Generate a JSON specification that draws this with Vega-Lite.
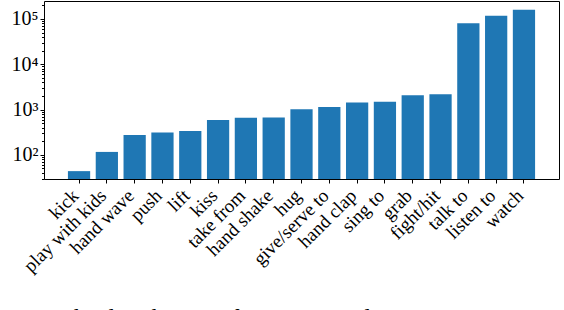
{
  "$schema": "https://vega.github.io/schema/vega-lite/v6.json",
  "width": 515,
  "height": 178,
  "autosize": {"type": "none"},
  "padding": {"left": 44, "top": 1, "right": 5, "bottom": 131},
  "background": "white",
  "config": {
    "view": {"stroke": "black", "strokeWidth": 1}
  },
  "title": {
    "text": "Figure 2. The distribution of interaction classes in AVA. I",
    "orient": "bottom",
    "anchor": "start",
    "baseline": "top",
    "font": "Liberation Serif",
    "fontSize": 24,
    "fontWeight": "normal",
    "color": "black",
    "offset": 30,
    "dx": -44
  },
  "data": {
    "values": [
      {"cls": "kick", "n": 43.7},
      {"cls": "play with kids", "n": 116},
      {"cls": "hand wave", "n": 275},
      {"cls": "push", "n": 313},
      {"cls": "lift", "n": 336},
      {"cls": "kiss", "n": 586},
      {"cls": "take from", "n": 658},
      {"cls": "hand shake", "n": 668},
      {"cls": "hug", "n": 1020},
      {"cls": "give/serve to", "n": 1140},
      {"cls": "hand clap", "n": 1425},
      {"cls": "sing to", "n": 1477},
      {"cls": "grab", "n": 2070},
      {"cls": "fight/hit", "n": 2178},
      {"cls": "talk to", "n": 79600},
      {"cls": "listen to", "n": 117500},
      {"cls": "watch", "n": 159000}
    ]
  },
  "mark": {"type": "bar", "color": "#1f77b4"},
  "encoding": {
    "x": {
      "field": "cls",
      "type": "nominal",
      "sort": null,
      "title": null,
      "scale": {"paddingInner": 0.2, "paddingOuter": 0.86},
      "axis": {
        "domain": false,
        "tickColor": "black",
        "tickSize": 4,
        "tickWidth": 1,
        "labelAngle": -45,
        "labelAlign": "right",
        "labelBaseline": "top",
        "labelFont": "Liberation Serif",
        "labelFontSize": 19,
        "labelColor": "black",
        "labelPadding": 3,
        "labelOffset": -10,
        "labelOverlap": false
      }
    },
    "y": {
      "field": "n",
      "type": "quantitative",
      "title": null,
      "scale": {"type": "log", "domain": [29.3, 248000], "nice": false, "zero": false},
      "axis": {
        "domain": false,
        "grid": false,
        "values": [30, 40, 50, 60, 70, 80, 90, 100, 200, 300, 400, 500, 600, 700, 800, 900, 1000, 2000, 3000, 4000, 5000, 6000, 7000, 8000, 9000, 10000, 20000, 30000, 40000, 50000, 60000, 70000, 80000, 90000, 100000, 200000],
        "labelExpr": "datum.value == 100 ? '10²' : datum.value == 1000 ? '10³' : datum.value == 10000 ? '10⁴' : datum.value == 100000 ? '10⁵' : ''",
        "tickColor": "black",
        "tickWidth": 1,
        "tickSize": {"condition": {"test": "indexof([100, 1000, 10000, 100000], datum.value) >= 0", "value": 4}, "value": 2.5},
        "labelFont": "Liberation Serif",
        "labelFontSize": 20,
        "labelColor": "black",
        "labelPadding": 2,
        "labelOverlap": false
      }
    },
    "y2": {"datum": 29.3}
  }
}
